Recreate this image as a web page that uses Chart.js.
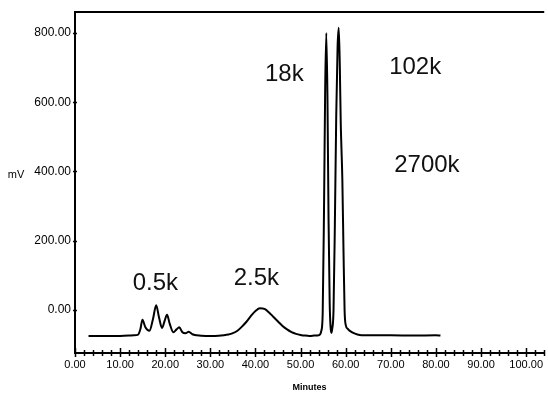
<!DOCTYPE html>
<html>
<head>
<meta charset="utf-8">
<script src="https://cdn.jsdelivr.net/npm/chart.js@4.4.1/dist/chart.umd.min.js"></script>
<style>
  html, body { margin: 0; padding: 0; background: #fff; }
  #wrap { width: 548px; height: 398px; position: relative; }
</style>
</head>
<body>
<div id="wrap"><canvas id="c"></canvas></div>
<script>
// ---- data ----
const minutes = [3, 5, 8, 10, 12, 13, 14.0, 14.5, 14.95, 15.6, 16.5, 17.3, 18.0, 18.6, 19.3, 19.9, 20.4, 21.0, 21.8, 22.5, 23.1, 23.8, 24.5, 25.2, 26, 27, 29, 31, 33,
  34, 35, 36, 37, 38, 39, 40, 41, 42, 43, 44, 45, 46, 47, 48, 49, 50, 51, 52, 53, 54,
  54.2, 54.6, 54.9, 55.2, 55.45, 55.7, 55.95, 56.2, 56.45, 56.65, 56.8,
  57.0, 57.3, 57.6, 57.9, 58.2, 58.46, 58.7, 58.9, 59.05, 59.25, 59.5, 59.75, 60.0, 60.5, 61, 61.8, 62.6, 63.5,
  66, 70, 75, 80, 81];
const millivolts = [-75, -75, -75, -75, -74, -73, -71, -55, -28, -50, -60, -25, 14, -20, -52, -30, -14, -40, -64, -56, -50, -64, -67, -63, -70, -73, -75, -75, -73,
  -71, -67, -60, -48, -34, -17, -3, 5, 3, -7, -20, -33, -46, -56, -64, -69, -72, -74, -75, -74, -73,
  -72, -60, -10, 300, 640, 800, 620, 260, 20, -50, -66,
  -55, 0, 250, 560, 760, 815, 700, 540, 470, 380, 180, 0, -43, -55, -61, -67, -71, -73,
  -73, -73, -74, -73, -74];
const xTickValues = [0, 10, 20, 30, 40, 50, 60, 70, 80, 90, 100];
const yTickValues = [0, 200, 400, 600, 800];
const peakLabels = ['0.5k', '2.5k', '18k', '102k', '2700k'];
const peakLabelMinutes = [17.8, 40.2, 46.4, 75.4, 78.0];
const peakLabelMv = [78, 92, 681, 702, 418];
const xTitle = 'Minutes';
const yTitle = 'mV';

const FONT = '"Liberation Sans", Arial, sans-serif';

const decor = {
  id: 'decor',
  afterDraw(chart) {
    const ctx = chart.ctx;
    const a = chart.chartArea;
    const xs = chart.scales.x, ys = chart.scales.y;
    ctx.save();
    ctx.strokeStyle = '#000';
    // top frame line
    ctx.lineWidth = 2;
    ctx.beginPath();
    ctx.moveTo(a.left, a.top);
    ctx.lineTo(a.right, a.top);
    ctx.stroke();
    // x ticks (major every 10, minor every 2)
    ctx.lineWidth = 1.5;
    for (let v = 0; v <= 104; v += 2) {
      const px = Math.round(xs.getPixelForValue(v)) + 0.5;
      const major = v % 10 === 0;
      ctx.beginPath();
      ctx.moveTo(px, a.bottom - (major ? 5 : 3));
      ctx.lineTo(px, a.bottom + (major ? 4 : 3));
      ctx.stroke();
    }
    // y ticks
    yTickValues.forEach(v => {
      const py = Math.round(ys.getPixelForValue(v)) + 0.5;
      ctx.beginPath();
      ctx.moveTo(a.left - 2, py);
      ctx.lineTo(a.left + 2, py);
      ctx.stroke();
    });
    // y title (horizontal)
    ctx.fillStyle = '#000';
    ctx.font = '11px ' + FONT;
    ctx.textAlign = 'center';
    ctx.textBaseline = 'middle';
    ctx.fillText(yTitle, 16, ys.getPixelForValue(390));
    // peak labels
    ctx.font = '24px ' + FONT;
    ctx.fillStyle = '#111';
    peakLabels.forEach((t, i) => {
      ctx.fillText(t, xs.getPixelForValue(peakLabelMinutes[i]), ys.getPixelForValue(peakLabelMv[i]));
    });
    ctx.restore();
  }
};

const points = minutes.map((m, i) => ({ x: m, y: millivolts[i] }));

new Chart(document.getElementById('c'), {
  type: 'line',
  data: {
    datasets: [{
      data: points,
      borderColor: '#000',
      borderWidth: 2,
      pointRadius: 0,
      fill: false,
      cubicInterpolationMode: 'monotone'
    }]
  },
  options: {
    responsive: true,
    maintainAspectRatio: false,
    animation: false,
    events: [],
    layout: { padding: { top: 12, right: 0, left: 0, bottom: 0 } },
    plugins: { legend: { display: false }, tooltip: { enabled: false } },
    scales: {
      x: {
        type: 'linear',
        min: 0,
        max: 104,
        afterBuildTicks: s => { s.ticks = xTickValues.map(v => ({ value: v })); },
        afterFit: s => { s.height = 45; },
        grid: { display: true, drawOnChartArea: false, drawTicks: false },
        border: { display: true, color: '#000', width: 2 },
        ticks: {
          padding: 5,
          maxRotation: 0,
          autoSkip: false,
          color: '#000',
          font: { family: FONT, size: 11 },
          callback: v => Number(v).toFixed(2)
        },
        title: {
          display: true,
          text: xTitle,
          color: '#000',
          font: { family: FONT, size: 9, weight: 'bold' },
          padding: { top: 0, bottom: 5 }
        }
      },
      y: {
        type: 'linear',
        min: -124.2,
        max: 860.6,
        afterBuildTicks: s => { s.ticks = yTickValues.map(v => ({ value: v })); },
        afterFit: s => { s.width = 75; },
        grid: { display: true, drawOnChartArea: false, drawTicks: false },
        border: { display: true, color: '#000', width: 2 },
        ticks: {
          padding: 4,
          color: '#000',
          font: { family: FONT, size: 12 },
          callback: v => Number(v).toFixed(2)
        }
      }
    }
  },
  plugins: [decor]
});
</script>
</body>
</html>
